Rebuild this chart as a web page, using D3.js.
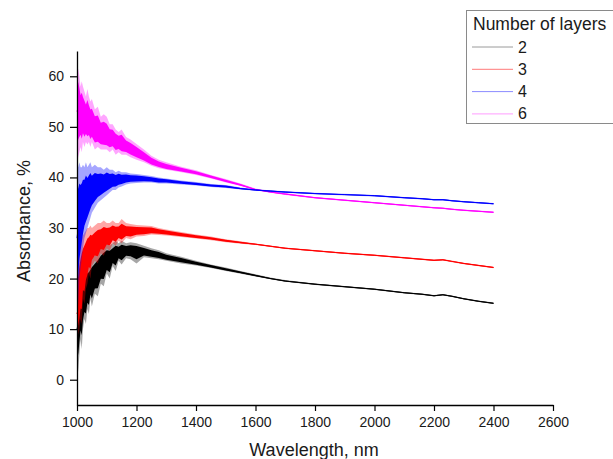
<!DOCTYPE html>
<html>
<head>
<meta charset="utf-8">
<script src="https://cdn.jsdelivr.net/npm/d3@7/dist/d3.min.js"></script>
<style>
  html, body { margin: 0; padding: 0; background: #fff; }
  svg { display: block; font-family: "Liberation Sans", Arial, sans-serif; }
</style>
</head>
<body>
<svg id="chart" width="613" height="459"></svg>
<script>
// ---------------- DATA ----------------
const wavelengths = [1000,1004,1008,1012,1016,1020,1025,1030,1035,1040,1045,1050,1060,1070,1080,1090,1100,1110,1120,1130,1140,1150,1165,1180,1200,1225,1250,1275,1300,1350,1400,1450,1500,1550,1600,1650,1700,1800,1900,2000,2100,2160,2200,2230,2260,2300,2350,2400];

const layers = ["2", "3", "4", "6"];

// layer 2 (black)
const mid2 = [10,11,12,13,14,15,16,17,17.5,18,18.5,19,20,21,21.8,22.5,23,23.6,24.2,24.6,25,25.2,25.4,25.5,25.4,25.2,24.9,24.6,24.2,23.6,23.0,22.4,21.8,21.2,20.6,20.0,19.5,18.9,18.4,17.9,17.2,16.9,16.6,16.8,16.5,16.0,15.5,15.1];
const lo2  = [7,1.5,5,8,6,10,12,11,14,13,16,14.5,17,16.5,19,18.5,21,20,22.5,21.5,23.5,22.8,24,23.8,23,24.2,24,23.8,23.5,23,22.6,22.1,21.5,20.95,20.4,19.85,19.35,18.75,18.25,17.75,17.05,16.75,16.45,16.65,16.35,15.85,15.35,14.95];
const hi2  = [15,18,19,20,21,21,22,22.5,23,23,23.5,24,24.5,25,26,26.5,27,26.5,27,27.5,27,27.5,27,27.2,27,26.5,26,25.6,25,24.3,23.5,22.8,22.2,21.5,20.85,20.2,19.7,19.05,18.55,18.05,17.35,17.05,16.75,16.95,16.65,16.15,15.65,15.25];

// layer 3 (red)
const mid3 = [13,14,16,18,19.5,21,22,23,24,24.8,25.3,25.8,26.5,27,27.4,27.8,28.1,28.4,28.6,28.8,29,29.1,29.2,29.3,29.4,29.5,29.5,29.3,29.1,28.7,28.3,27.9,27.5,27.1,26.8,26.4,26.0,25.5,25.0,24.6,24.1,23.8,23.6,23.7,23.4,23.0,22.6,22.2];
const lo3  = [8.5,9,10,12,11,16,15,18,19,21,20,22.5,23.5,23,25,24.5,26,25.5,27,26.5,27.5,27,28,27.8,28.3,28.4,28.7,28.6,28.5,28.2,27.9,27.6,27.2,26.9,26.65,26.25,25.85,25.35,24.85,24.45,23.95,23.65,23.45,23.55,23.25,22.85,22.45,22.05];
const hi3  = [22,24,26,27,28,28.5,29,29.5,30,30,30.5,30,30.5,31,31,31.5,31,31,31.5,31,31,31.8,31,30.8,30.6,30.5,30.4,30.0,29.7,29.2,28.7,28.3,27.8,27.4,26.95,26.55,26.15,25.65,25.15,24.75,24.25,23.95,23.75,23.85,23.55,23.15,22.75,22.35];

// layer 4 (blue)
const mid4 = [28,30,31,32,33,34,35,35.5,36,36.5,37,37.3,37.8,38.2,38.5,38.8,39,39.2,39.4,39.5,39.6,39.7,39.8,39.8,39.8,39.7,39.6,39.4,39.3,39.0,38.7,38.4,38.2,37.8,37.5,37.3,37.1,36.8,36.6,36.4,36.0,35.8,35.6,35.6,35.4,35.2,35.0,34.8];
const lo4  = [12,15,20,22,24,26,28,29,30,31,32,33,34,35,35.5,36,36.5,37,37.5,37.5,38,38.2,38.6,38.8,38.9,39,39,38.8,38.8,38.6,38.4,38.1,37.9,37.6,37.35,37.15,36.95,36.65,36.45,36.25,35.85,35.65,35.45,35.45,35.25,35.05,34.85,34.65];
const hi4  = [43,42,43,42,42,42.5,42,43,42,42.5,43,42,42.5,42,42,41.5,42,41.5,41.5,41,41.3,41,41,40.8,40.7,40.5,40.3,40,39.8,39.4,39.1,38.7,38.5,38.0,37.65,37.45,37.25,36.95,36.75,36.55,36.15,35.95,35.75,35.75,35.55,35.35,35.15,34.95];

// layer 6 (magenta)
const mid6 = [53,54,53.5,53,52.5,52,51.8,51.5,51.2,51,50.5,50,49.5,49,48.6,48.3,48,47.7,47.4,47.1,46.8,46.5,46,45.5,44.9,44,43.1,42.5,42.0,41.5,40.9,40.1,39.3,38.5,37.6,37.1,36.7,36.0,35.5,35.0,34.5,34.2,34.0,33.9,33.7,33.5,33.3,33.1];
const lo6  = [42,44,45,46,45,47,46,47,46.5,47,46,47,45.5,46,45.5,45.5,45.5,45,45.5,44.5,45,44.5,44.5,44,43.5,43,42.3,41.8,41.5,41.0,40.5,39.8,39.0,38.3,37.45,36.95,36.55,35.85,35.35,34.85,34.35,34.05,33.85,33.75,33.55,33.35,33.15,32.95];
const hi6  = [60,61.5,60,58,59,58,57,56,57.5,56,55,55.5,53.5,54,52,52.5,52,50.5,50.5,49.5,49,49.5,48,47.5,46.6,45.5,44.3,43.5,43.0,42.1,41.4,40.5,39.7,38.8,37.8,37.3,36.9,36.15,35.65,35.15,34.65,34.35,34.15,34.05,33.85,33.65,33.45,33.25];

const xTicks = [1000,1200,1400,1600,1800,2000,2200,2400,2600];
const xMinorTicks = [1100,1300,1500,1700,1900,2100,2300,2500];
const yTicks = [0,10,20,30,40,50,60];
const yMinorTicks = [-5,5,15,25,35,45,55,65];

const xTitle = "Wavelength, nm";
const yTitle = "Absorbance, %";
const legendTitle = "Number of layers";

// ---------------- RENDER ----------------
const colors = {"2": "#000000", "3": "#ff0000", "4": "#0000ff", "6": "#ff00ff"};
const legendColors = {"2": "#9a9a9a", "3": "#ff7a7a", "4": "#8c8cff", "6": "#ff9cff"};
const seriesData = {
  "2": {mid: mid2, lo: lo2, hi: hi2},
  "3": {mid: mid3, lo: lo3, hi: hi3},
  "4": {mid: mid4, lo: lo4, hi: hi4},
  "6": {mid: mid6, lo: lo6, hi: hi6}
};
const drawOrder = ["2", "3", "6", "4"];

const svg = d3.select("#chart");
const x = d3.scaleLinear().domain([1000, 2600]).range([77, 553]);
const y = d3.scaleLinear().domain([-5, 65]).range([405, 51]);

const plot = svg.append("g");
drawOrder.forEach(k => {
  const s = seriesData[k];
  const pts = wavelengths.map((w, i) => ({w, m: s.mid[i], lo: s.lo[i], hi: s.hi[i]}));
  const outer = d3.area().x(d => x(d.w)).y0(d => y(d.lo)).y1(d => y(d.hi));
  const inner = d3.area().x(d => x(d.w))
      .y0(d => y(d.m - (d.m - d.lo) * 0.65))
      .y1(d => y(d.m + (d.hi - d.m) * 0.65));
  plot.append("path").datum(pts).attr("d", outer)
      .attr("fill", colors[k]).attr("fill-opacity", 0.35).attr("stroke", "none");
  plot.append("path").datum(pts).attr("d", inner)
      .attr("fill", colors[k]).attr("stroke", "none");
  plot.append("path").datum(pts)
      .attr("d", d3.line().x(d => x(d.w)).y(d => y(d.m)))
      .attr("fill", "none").attr("stroke", colors[k]).attr("stroke-width", 1);
});

// axes
const fontSize = 14;
const xAxisG = svg.append("g").attr("transform", "translate(0,405)");
xAxisG.call(d3.axisBottom(x).tickValues(xMinorTicks).tickSize(3).tickFormat(""));
xAxisG.call(d3.axisBottom(x).tickValues(xTicks).tickSize(6).tickSizeOuter(0).tickPadding(6).tickFormat(d3.format("d")));
const yAxisG = svg.append("g").attr("transform", "translate(77,0)");
yAxisG.call(d3.axisLeft(y).tickValues(yMinorTicks).tickSize(4).tickFormat(""));
yAxisG.call(d3.axisLeft(y).tickValues(yTicks).tickSize(7).tickSizeOuter(0).tickPadding(6).tickFormat(d3.format("d")));
svg.selectAll(".domain").attr("stroke", "#000").attr("stroke-width", 1.3);
svg.selectAll(".tick line").attr("stroke", "#000").attr("stroke-width", 1.2);
svg.selectAll(".tick text").attr("font-size", fontSize).attr("fill", "#1a1a1a")
   .attr("font-family", "'Liberation Sans', Arial, sans-serif");

svg.append("text").attr("x", 314).attr("y", 456).attr("text-anchor", "middle")
   .attr("font-size", 18).attr("fill", "#1a1a1a").text(xTitle);
svg.append("text").attr("transform", "translate(30,221) rotate(-90)").attr("text-anchor", "middle")
   .attr("font-size", 18).attr("fill", "#1a1a1a").text(yTitle);

// legend
const lg = svg.append("g");
lg.append("rect").attr("x", 466.5).attr("y", 10.5).attr("width", 170).attr("height", 113)
  .attr("fill", "#fff").attr("stroke", "#8a8a8a").attr("stroke-width", 1);
lg.append("text").attr("x", 473).attr("y", 30).attr("font-size", 17.5).attr("fill", "#1a1a1a").text(legendTitle);
layers.forEach((k, i) => {
  const cy = 47 + i * 22.3;
  lg.append("line").attr("x1", 472).attr("x2", 513).attr("y1", cy).attr("y2", cy)
    .attr("stroke", legendColors[k]).attr("stroke-width", 1);
  lg.append("text").attr("x", 518).attr("y", cy + 5.5).attr("font-size", 16).attr("fill", "#1a1a1a").text(k);
});
</script>
</body>
</html>
